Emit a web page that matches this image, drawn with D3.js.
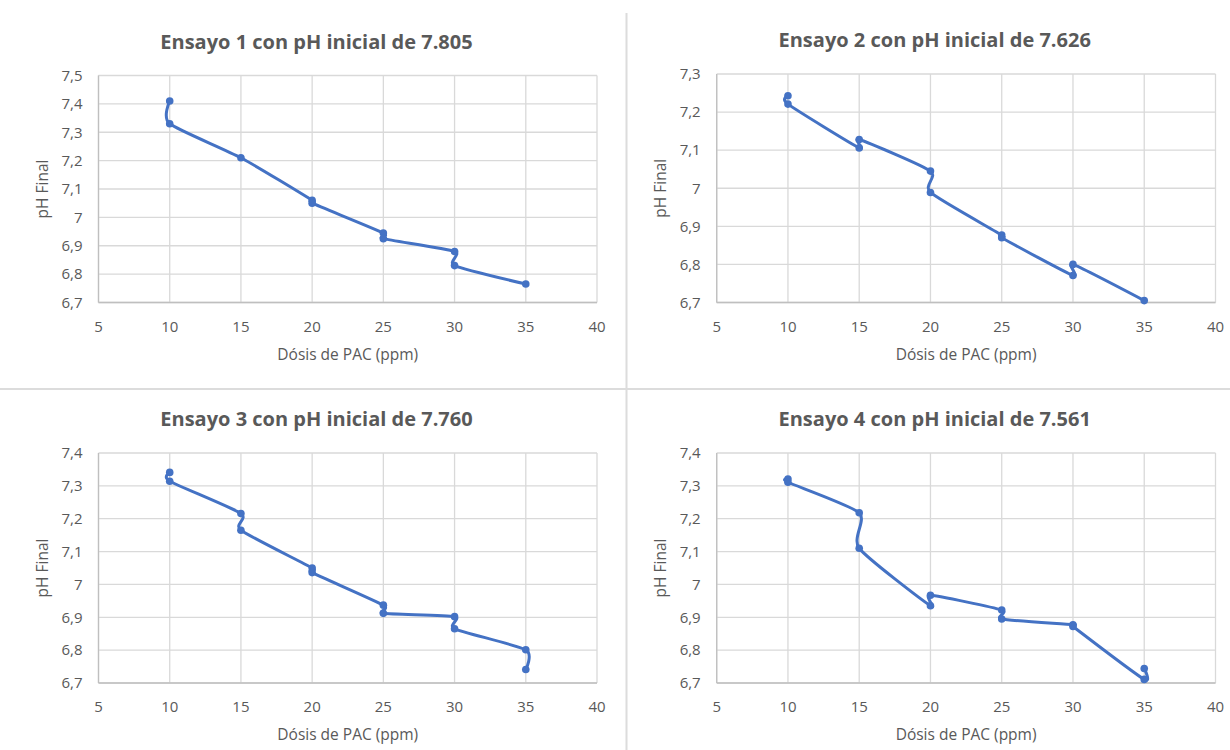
<!DOCTYPE html>
<html>
<head>
<meta charset="utf-8">
<script src="https://cdn.jsdelivr.net/npm/d3@7"></script>
<style>
  body { margin: 0; background: #fff; }
  text { font-family: "Open Sans", "Noto Sans", sans-serif; fill: #595959; }
</style>
</head>
<body>
<script>
// Data
const titles = [
    "Ensayo 1 con pH inicial de 7.805",
    "Ensayo 2 con pH inicial de 7.626",
    "Ensayo 3 con pH inicial de 7.760",
    "Ensayo 4 con pH inicial de 7.561"
];
const xTitle = "Dósis de PAC (ppm)";
const yTitle = "pH Final";

const xTicks = [5, 10, 15, 20, 25, 30, 35, 40];
const yTicks1 = [6.7, 6.8, 6.9, 7.0, 7.1, 7.2, 7.3, 7.4, 7.5];
const yTicks2 = [6.7, 6.8, 6.9, 7.0, 7.1, 7.2, 7.3];
const yTicks3 = [6.7, 6.8, 6.9, 7.0, 7.1, 7.2, 7.3, 7.4];
const yTicks4 = [6.7, 6.8, 6.9, 7.0, 7.1, 7.2, 7.3, 7.4];

const dose1 = [10, 10, 15, 20, 20, 25, 25, 30, 30, 35];
const ph1   = [7.41, 7.33, 7.21, 7.06, 7.05, 6.945, 6.925, 6.88, 6.83, 6.765];

const dose2 = [10, 10, 15, 15, 20, 20, 25, 25, 30, 30, 35];
const ph2   = [7.243, 7.221, 7.106, 7.128, 7.045, 6.989, 6.877, 6.87, 6.771, 6.80, 6.705];

const dose3 = [10, 10, 15, 15, 20, 20, 25, 25, 30, 30, 35, 35];
const ph3   = [7.341, 7.314, 7.216, 7.165, 7.05, 7.036, 6.937, 6.912, 6.902, 6.865, 6.801, 6.741];

const dose4 = [10, 10, 15, 15, 20, 20, 25, 25, 30, 30, 35, 35];
const ph4   = [7.321, 7.311, 7.218, 7.11, 6.935, 6.967, 6.922, 6.895, 6.877, 6.872, 6.711, 6.744];

const width = 1230;
const height = 750;

const svg = d3.select("body").append("svg")
    .attr("width", width)
    .attr("height", height);

// separators between the four charts
svg.append("line")
    .attr("x1", 626.5).attr("x2", 626.5).attr("y1", 13).attr("y2", height)
    .attr("stroke", "#dcdcdc").attr("stroke-width", 2);
svg.append("line")
    .attr("x1", 0).attr("x2", width).attr("y1", 389).attr("y2", 389)
    .attr("stroke", "#dcdcdc").attr("stroke-width", 2);

const locale = d3.formatLocale({decimal: ",", thousands: ".", grouping: [3], currency: ["", ""]});
const fmt = locale.format(".1~f");

const charts = [
    {dose: dose1, ph: ph1, yTicks: yTicks1, title: titles[0], left: 98.5, right: 597, top: 75.5, bottom: 302.5},
    {dose: dose2, ph: ph2, yTicks: yTicks2, title: titles[1], left: 716.7, right: 1215.5, top: 74, bottom: 302.5},
    {dose: dose3, ph: ph3, yTicks: yTicks3, title: titles[2], left: 98.5, right: 597, top: 453, bottom: 683},
    {dose: dose4, ph: ph4, yTicks: yTicks4, title: titles[3], left: 716.7, right: 1215.5, top: 453, bottom: 683}
];

charts.forEach( c => ShowChart(c) );

function ShowChart( c ) {
    const data = c.dose.map( (d, i) => ({x: d, y: c.ph[i]}) );

    const xscale = d3.scaleLinear()
        .domain( [d3.min(xTicks), d3.max(xTicks)] )
        .range( [c.left, c.right] );
    const yscale = d3.scaleLinear()
        .domain( [d3.min(c.yTicks), d3.max(c.yTicks)] )
        .range( [c.bottom, c.top] );

    const g = svg.append("g");

    // grid
    g.selectAll(".hgrid")
        .data(c.yTicks)
        .enter()
        .append("line")
        .attr("x1", c.left).attr("x2", c.right)
        .attr("y1", d => yscale(d)).attr("y2", d => yscale(d))
        .attr("stroke", "#d9d9d9").attr("stroke-width", 1.3);
    g.selectAll(".vgrid")
        .data(xTicks)
        .enter()
        .append("line")
        .attr("x1", d => xscale(d)).attr("x2", d => xscale(d))
        .attr("y1", c.top).attr("y2", c.bottom)
        .attr("stroke", "#d9d9d9").attr("stroke-width", 1.3);

    // axes lines
    g.append("line")
        .attr("x1", c.left).attr("x2", c.left).attr("y1", c.top).attr("y2", c.bottom)
        .attr("stroke", "#bfbfbf").attr("stroke-width", 1.3);
    g.append("line")
        .attr("x1", c.left).attr("x2", c.right).attr("y1", c.bottom).attr("y2", c.bottom)
        .attr("stroke", "#bfbfbf").attr("stroke-width", 1.3);

    // tick labels
    g.selectAll(".ylab")
        .data(c.yTicks)
        .enter()
        .append("text")
        .attr("x", c.left - 16)
        .attr("y", d => yscale(d))
        .attr("dy", "0.35em")
        .attr("text-anchor", "end")
        .style("font-size", "15px")
        .text(d => fmt(d));
    g.selectAll(".xlab")
        .data(xTicks)
        .enter()
        .append("text")
        .attr("x", d => xscale(d))
        .attr("y", c.bottom + 24)
        .attr("dy", "0.35em")
        .attr("text-anchor", "middle")
        .style("font-size", "15px")
        .text(d => d);

    // titles
    g.append("text")
        .attr("x", c.left + 218)
        .attr("y", c.top - 34)
        .attr("dy", "0.35em")
        .attr("text-anchor", "middle")
        .style("font-size", "20px")
        .style("font-weight", "bold")
        .text(c.title);
    g.append("text")
        .attr("x", (c.left + c.right) / 2)
        .attr("y", c.bottom + 52)
        .attr("dy", "0.35em")
        .attr("text-anchor", "middle")
        .style("font-size", "15.5px")
        .text(xTitle);
    g.append("text")
        .attr("transform", `translate(${c.left - 56}, ${(c.top + c.bottom) / 2}) rotate(-90)`)
        .attr("dy", "0.35em")
        .attr("text-anchor", "middle")
        .style("font-size", "15.5px")
        .text(yTitle);

    // series
    const line = d3.line()
        .x(d => xscale(d.x))
        .y(d => yscale(d.y))
        .curve(d3.curveCardinal.tension(0.35));
    g.append("path")
        .datum(data)
        .attr("d", line)
        .attr("fill", "none")
        .attr("stroke", "#4472C4")
        .attr("stroke-width", 3);
    g.selectAll("circle")
        .data(data)
        .enter()
        .append("circle")
        .attr("cx", d => xscale(d.x))
        .attr("cy", d => yscale(d.y))
        .attr("r", 3.8)
        .attr("fill", "#4472C4");
}
</script>
</body>
</html>
